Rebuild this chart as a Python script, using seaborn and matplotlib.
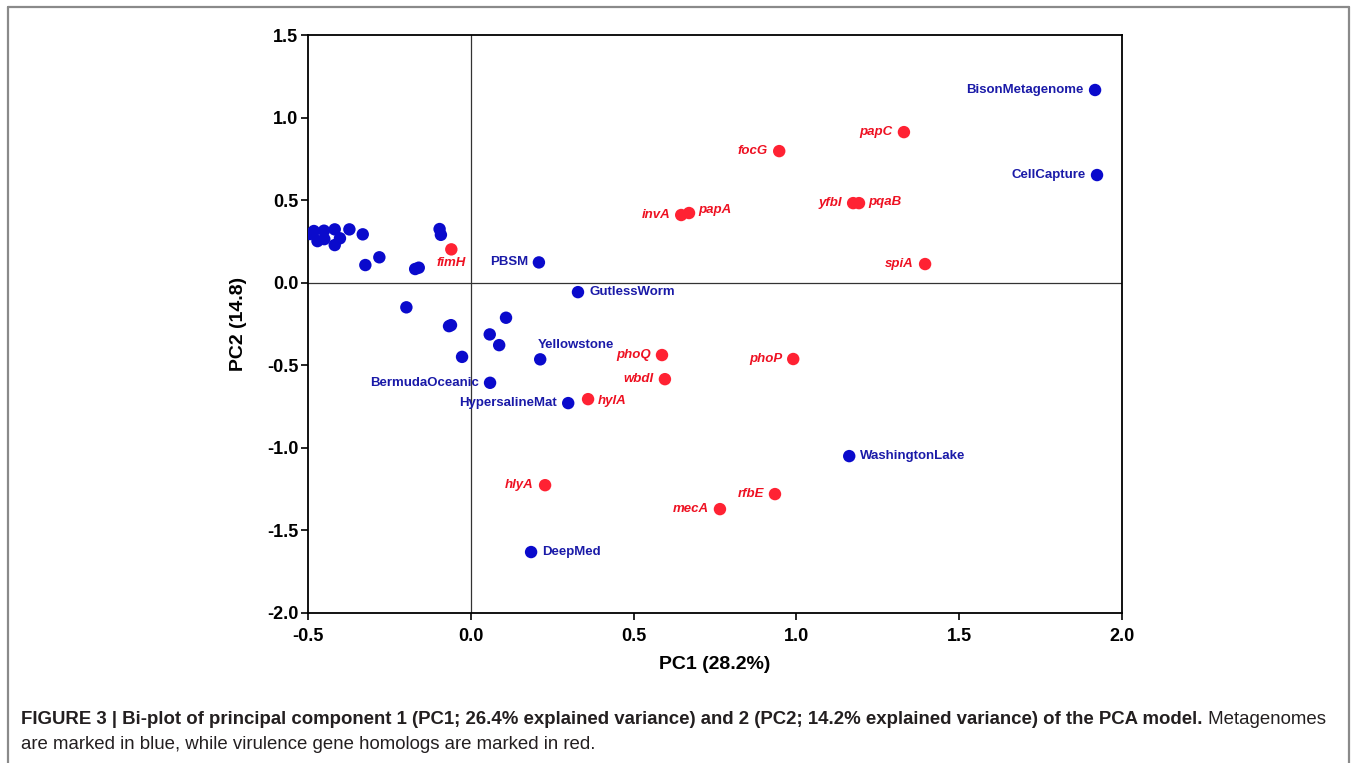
import numpy as np
import pandas as pd
import seaborn as sns
import matplotlib.pyplot as plt
from matplotlib.lines import Line2D

# metagenomes (blue); '' = unlabelled point
meta_labels = ['', '', '', '', '', '', '', '', '', '', '', '', '', '', '', '', '', '', '', '', '', '', '',
               'BermudaOceanic', 'PBSM', 'Yellowstone', 'GutlessWorm', 'HypersalineMat', 'DeepMed',
               'WashingtonLake', 'BisonMetagenome', 'CellCapture']
meta_pc1 = [-0.494, -0.482, -0.471, -0.451, -0.450, -0.418, -0.418, -0.402, -0.373, -0.332, -0.324,
            -0.281, -0.171, -0.160, -0.096, -0.092, -0.198, -0.067, -0.061, -0.027, 0.058, 0.087, 0.108,
            0.059, 0.209, 0.213, 0.329, 0.299, 0.185, 1.162, 1.917, 1.923]
meta_pc2 = [0.295, 0.313, 0.252, 0.315, 0.264, 0.323, 0.228, 0.269, 0.323, 0.293, 0.107,
            0.154, 0.083, 0.091, 0.325, 0.290, -0.149, -0.263, -0.257, -0.449, -0.313, -0.378, -0.212,
            -0.606, 0.123, -0.464, -0.057, -0.729, -1.631, -1.050, 1.167, 0.652]

# virulence gene homologs (red)
gene_labels = ['fimH', 'papC', 'focG', 'yfbI', 'pqaB', 'invA', 'papA', 'spiA', 'phoQ', 'phoP',
               'wbdI', 'hylA', 'hlyA', 'rfbE', 'mecA']
gene_pc1 = [-0.060, 1.330, 0.947, 1.174, 1.192, 0.646, 0.670, 1.395, 0.587, 0.990,
            0.596, 0.360, 0.228, 0.934, 0.765]
gene_pc2 = [0.202, 0.912, 0.797, 0.482, 0.482, 0.410, 0.422, 0.113, -0.438, -0.462,
            -0.584, -0.705, -1.226, -1.280, -1.371]

x_ticks = [-0.5, 0.0, 0.5, 1.0, 1.5, 2.0]
y_ticks = [-2.0, -1.5, -1.0, -0.5, 0.0, 0.5, 1.0, 1.5]

# label placement (offset in points, horizontal alignment)
label_pos = {
    'fimH': (0, -10, 'center'), 'papA': (7, 2, 'left'), 'pqaB': (7, 1, 'left'),
    'hylA': (7, -1, 'left'), 'GutlessWorm': (8, 0, 'left'), 'WashingtonLake': (8, 0, 'left'),
    'DeepMed': (8, 0, 'left'), 'Yellowstone': (-2, 10, 'left'),
}

blue_pt, blue_txt = '#0a0acc', '#1a1aa8'
red_pt, red_txt = '#ff2233', '#ee1122'

df = pd.DataFrame({
    'PC1': meta_pc1 + gene_pc1,
    'PC2': meta_pc2 + gene_pc2,
    'label': meta_labels + gene_labels,
    'group': ['meta'] * len(meta_pc1) + ['gene'] * len(gene_pc1),
})

sns.set_style('ticks')
plt.rcParams['font.family'] = ['Liberation Sans', 'DejaVu Sans']

fig = plt.figure(figsize=(13.57, 7.63), dpi=100)
ax = fig.add_axes([0.2270, 0.1966, 0.5999, 0.7575])

ax.axhline(0, color='#333333', lw=0.9, zorder=1)
ax.axvline(0, color='#333333', lw=0.9, zorder=1)

sns.scatterplot(data=df, x='PC1', y='PC2', hue='group',
                palette={'meta': blue_pt, 'gene': red_pt},
                s=80, linewidth=0, legend=False, ax=ax, zorder=3)

for _, r in df.iterrows():
    if not r['label']:
        continue
    dx, dy, ha = label_pos.get(r['label'], (-8, 0, 'right'))
    is_gene = r['group'] == 'gene'
    ax.annotate(r['label'], (r['PC1'], r['PC2']), xytext=(dx, dy), textcoords='offset points',
                ha=ha, va='center', fontsize=9.5, fontweight='bold',
                fontstyle='italic' if is_gene else 'normal',
                color=red_txt if is_gene else blue_txt)

ax.set_xlim(-0.5, 2.0)
ax.set_ylim(-2.0, 1.5)
ax.set_xticks(x_ticks)
ax.set_yticks(y_ticks)
ax.set_xticklabels([f'{v:.1f}' for v in x_ticks], fontsize=13, fontweight='bold', color='black')
ax.set_yticklabels([f'{v:.1f}' for v in y_ticks], fontsize=13, fontweight='bold', color='black')
ax.tick_params(axis='x', direction='out', length=5, width=1.2, color='black', pad=6)
ax.tick_params(axis='y', direction='out', length=5, width=1.2, color='black', pad=2)
for sp in ax.spines.values():
    sp.set_color('black')
    sp.set_linewidth(1.3)
ax.set_xlabel('PC1 (28.2%)', fontsize=14, fontweight='bold', labelpad=8, color='black')
ax.set_ylabel('PC2 (14.8)', fontsize=14, fontweight='bold', labelpad=14, color='black')

# figure frame (left, top, right)
for xs, ys in [([0.0059, 0.0059], [0.0, 0.9908]), ([0.0059, 0.9941], [0.9908, 0.9908]),
               ([0.9941, 0.9941], [0.9908, 0.0])]:
    fig.add_artist(Line2D(xs, ys, transform=fig.transFigure, color='#8a8a8a', lw=1.6))

# caption
cap_bold = ('FIGURE 3 | Bi-plot of principal component 1 (PC1; 26.4% explained variance) '
            'and 2 (PC2; 14.2% explained variance) of the PCA model.')
t1 = fig.text(0.0155, 0.0564, cap_bold, fontsize=13.4, fontweight='bold', color='#231f20', va='center')
fig.canvas.draw()
bb = t1.get_window_extent(renderer=fig.canvas.get_renderer())
x_end = bb.x1 / fig.bbox.width
fig.text(x_end, 0.0564, ' Metagenomes', fontsize=13.4, color='#231f20', va='center')
fig.text(0.0155, 0.0249, 'are marked in blue, while virulence gene homologs are marked in red.',
         fontsize=13.4, color='#231f20', va='center')

fig.savefig('out.png', dpi=100)
